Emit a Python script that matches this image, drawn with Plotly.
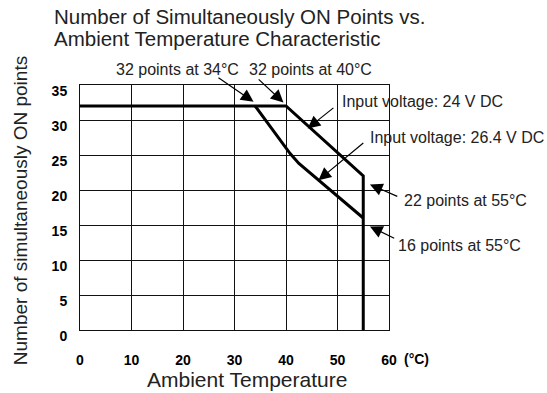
import plotly.graph_objects as go

# ---- data ----
temp_24v = [0, 40, 55, 55]
points_24v = [32, 32, 22, 0]
temp_264v = [34, 40.8, 42.5, 55]
points_264v = [32, 25.2, 23.8, 16]

x_ticks = [0, 10, 20, 30, 40, 50, 60]
y_ticks = [0, 5, 10, 15, 20, 25, 30, 35]

title_lines = ["Number of Simultaneously ON Points vs.", "Ambient Temperature Characteristic"]
x_title = "Ambient Temperature"
y_title = "Number of simultaneously ON points"

# callout labels (paper position of the label's left-middle)
callout_texts = ["32 points at 34°C", "32 points at 40°C", "Input voltage: 24 V DC",
                 "Input voltage: 26.4 V DC", "22 points at 55°C", "16 points at 55°C"]
callout_text_pos = [(0.1092, 1.0653), (0.5402, 1.0653), (0.8417, 0.9318),
                    (0.9331, 0.7865), (1.0410, 0.5278), (1.0226, 0.3441)]
# arrows: tail and tip in data units
arrow_tails = [(26.6, 36.2), (34.4, 36.0), (49.5, 31.9), (55.3, 26.9), (61.9, 19.0), (61.3, 13.0)]
arrow_tips = [(33.7, 32.6), (39.5, 32.5), (44.2, 28.8), (46.3, 21.4), (56.3, 20.8), (56.3, 14.8)]

FONT = "Liberation Sans, Arial, Helvetica, sans-serif"
TXT = "#222222"

fig = go.Figure()
fig.add_trace(go.Scatter(x=temp_24v, y=points_24v, mode="lines",
                         line=dict(color="black", width=3), cliponaxis=False,
                         name="24 V DC", showlegend=False))
fig.add_trace(go.Scatter(x=temp_264v, y=points_264v, mode="lines",
                         line=dict(color="black", width=3), cliponaxis=False,
                         name="26.4 V DC", showlegend=False))

ann = []
for text, (tx, ty) in zip(callout_texts, callout_text_pos):
    ann.append(dict(x=tx, y=ty, xref="paper", yref="paper", text=text, showarrow=False,
                    xanchor="left", yanchor="middle",
                    font=dict(family=FONT, size=16, color=TXT)))
for (ax, ay), (hx, hy) in zip(arrow_tails, arrow_tips):
    ann.append(dict(x=hx, y=hy, ax=ax, ay=ay, xref="x", yref="y", axref="x", ayref="y",
                    text="", showarrow=True, arrowhead=2, arrowsize=2.1, arrowwidth=1.2,
                    arrowcolor="black", standoff=0, startstandoff=0))

# title lines
ann.append(dict(x=-0.0897, y=1.2776, xref="paper", yref="paper", text=title_lines[0],
                showarrow=False, xanchor="left", yanchor="middle",
                font=dict(family=FONT, size=20.5, color=TXT)))
ann.append(dict(x=-0.0897, y=1.1878, xref="paper", yref="paper", text=title_lines[1],
                showarrow=False, xanchor="left", yanchor="middle",
                font=dict(family=FONT, size=20.5, color=TXT)))
# axis titles
ann.append(dict(x=0.2116, y=-0.2, xref="paper", yref="paper", text=x_title,
                showarrow=False, xanchor="left", yanchor="middle",
                font=dict(family=FONT, size=21, color=TXT)))
ann.append(dict(x=-0.19, y=0.486, xref="paper", yref="paper", text=y_title,
                showarrow=False, xanchor="center", yanchor="middle", textangle=-90,
                font=dict(family=FONT, size=19, color=TXT)))
# unit label
ann.append(dict(x=1.042, y=-0.1184, xref="paper", yref="paper", text="(°C)",
                showarrow=False, xanchor="left", yanchor="middle",
                font=dict(family=FONT, size=14, color="black", weight="bold")))

fig.update_layout(
    width=547, height=393,
    margin=dict(l=79.5, r=158, t=85, b=63, pad=0),
    paper_bgcolor="white", plot_bgcolor="white",
    annotations=ann,
    showlegend=False,
)
fig.update_xaxes(range=[0, 60], tickvals=x_ticks, ticktext=[str(v) for v in x_ticks],
                 showgrid=True, gridcolor="#111111", gridwidth=1,
                 showline=True, linecolor="#111111", linewidth=1, mirror=True,
                 zeroline=False, ticks="", ticklabelstandoff=17,
                 tickfont=dict(family=FONT, size=14, color="black", weight="bold"))
fig.update_yaxes(range=[0, 35], tickvals=y_ticks, ticktext=[str(v) for v in y_ticks],
                 showgrid=True, gridcolor="#111111", gridwidth=1,
                 showline=True, linecolor="#111111", linewidth=1, mirror=True,
                 zeroline=False, ticks="", ticklabelstandoff=9,
                 ticklabelshift=6,
                 tickfont=dict(family=FONT, size=14, color="black", weight="bold"))

fig.write_html("out.html", post_script="document.body.style.margin='0';",
               config={"displayModeBar": False})
